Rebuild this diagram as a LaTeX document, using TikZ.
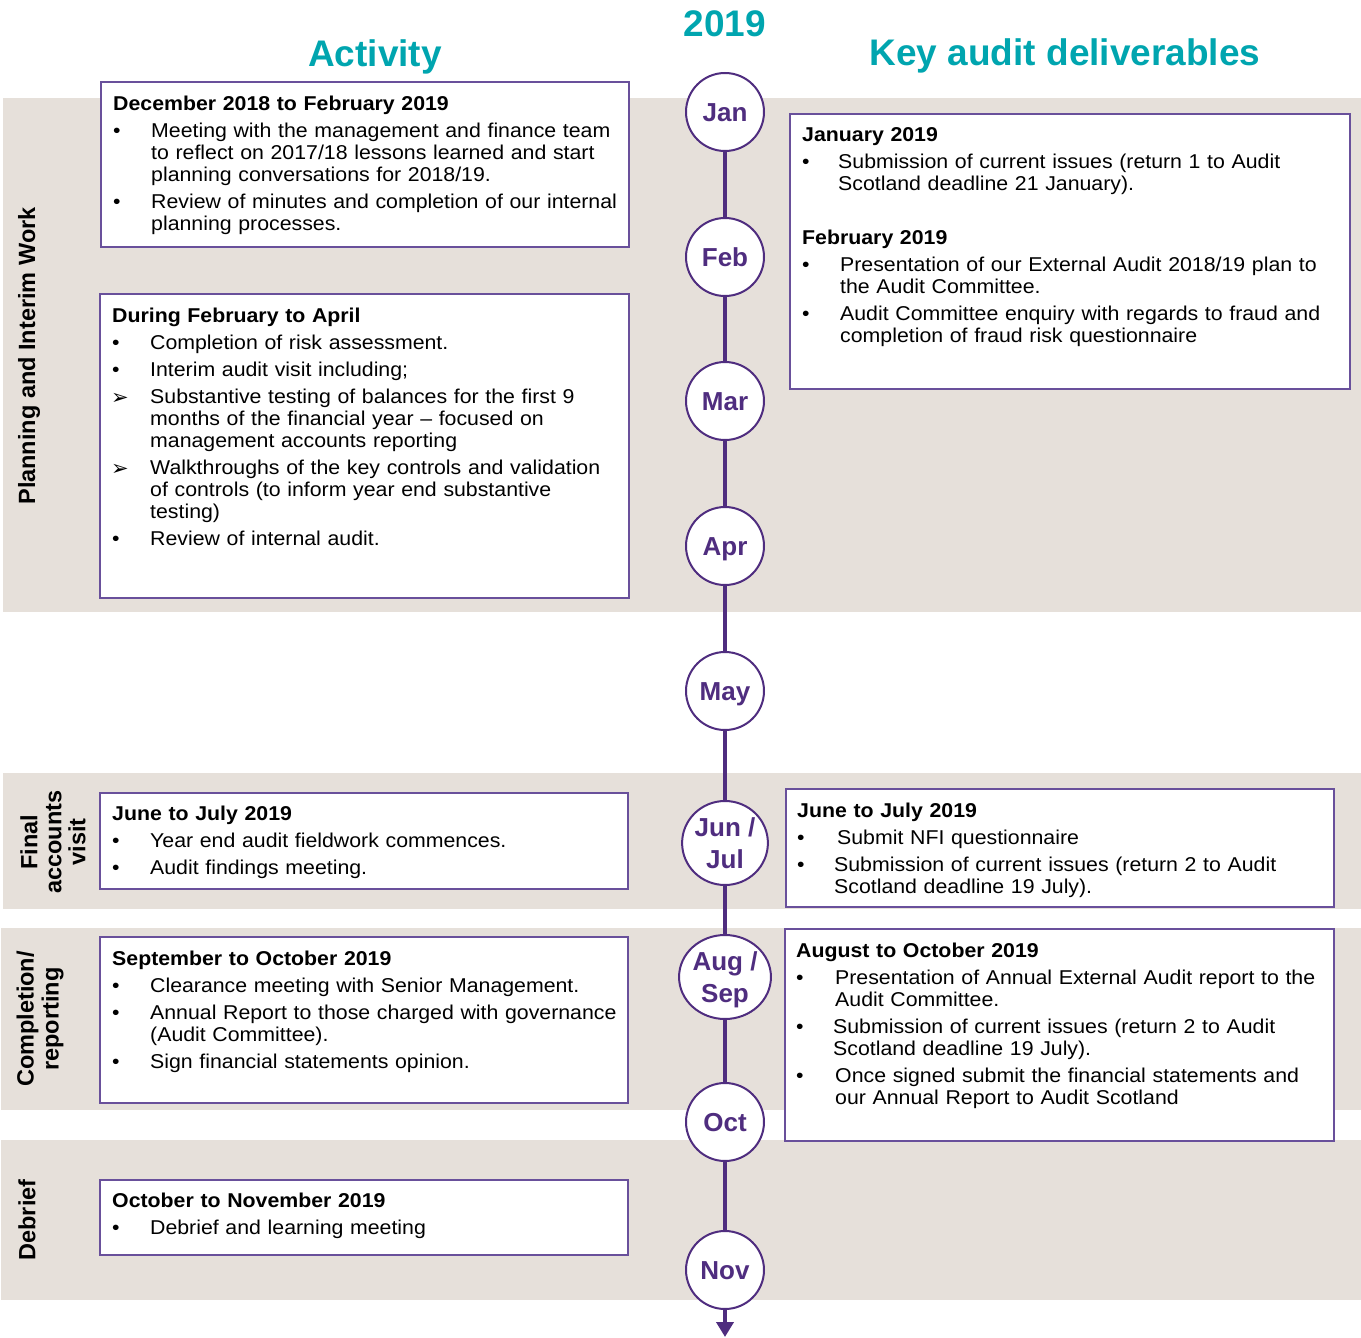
\documentclass[tikz,border=0pt]{standalone}
\usepackage{fontspec}
\setmainfont[FakeStretch=1.065]{Liberation Sans}
\newfontfamily\headfont{Liberation Sans}
\newfontfamily\symfont{DejaVu Sans}
\usetikzlibrary{positioning,arrows.meta,shapes.geometric}

\definecolor{gtteal}{RGB}{0,165,175}
\definecolor{gtpurple}{RGB}{79,45,127}
\definecolor{boxline}{RGB}{105,80,155}
\definecolor{bandgrey}{RGB}{230,224,218}

% bullet and arrow lines, hanging indent
\newcommand{\bl}[2][38pt]{\par\hangindent=#1\hangafter=1\noindent\makebox[#1][l]{•}#2\par}
\newcommand{\al}[2][38pt]{\par\hangindent=#1\hangafter=1\noindent\makebox[#1][l]{\hspace{-1pt}\raisebox{-1pt}{\symfont\fontsize{21}{21}\selectfont ➢}}#2\par}

\begin{document}
\begin{tikzpicture}[x=1pt,y=-1pt,
    band/.style={fill=bandgrey},
    actbox/.style={draw=boxline,fill=white,line width=1.3pt},
    boxtext/.style={anchor=north west,inner sep=0pt,text width=600pt,
        font=\fontsize{20}{22}\selectfont,
        execute at begin node={\setlength{\parskip}{5pt}\rightskip=0pt plus 1fil}},
    title/.style={inner sep=0pt,text=gtteal,font=\headfont\bfseries\fontsize{37}{40}\selectfont},
    side/.style={rotate=90,inner sep=0pt,align=center,font=\headfont\bfseries\fontsize{23.5}{24}\selectfont},
    month/.style={circle,draw=gtpurple,line width=2pt,fill=white,minimum size=78pt,inner sep=0pt,
        text=gtpurple,align=center,font=\headfont\bfseries\fontsize{26}{32}\selectfont},
    month1/.style={month,text height=18.5pt,text depth=0pt},
    month2/.style={month,ellipse,minimum width=80pt,minimum height=84pt},
    tline/.style={draw=gtpurple,line width=4pt}]

\useasboundingbox (0,0) rectangle (1361,1338);

% phase bands
\fill[band] (3,98) rectangle (1361,612);
\fill[band] (3,773) rectangle (1361,909);
\fill[band] (1,928) rectangle (1361,1110);
\fill[band] (1,1140) rectangle (1361,1300);

% headings
\node[title] (year) at (725,24) {2019};
\node[title] (activity) at (375,57) {Activity};
\node[title] (deliv) at (1065,56) {Key audit deliverables};

% phase labels
\node[side] (plan) at (29,356) {Planning and Interim Work};
\node[side] (final) at (53,842) {Final\\accounts\\visit};
\node[side,font=\headfont\bfseries\fontsize{23.5}{25}\selectfont] (compl) at (40,1019) {Completion/\\reporting};
\node[side] (debrief) at (27,1220) {Debrief};

% activity boxes
\draw[actbox] (101,82) rectangle (629,247);
\draw[actbox] (100,294) rectangle (629,598);
\draw[actbox] (100,793) rectangle (628,889);
\draw[actbox] (100,937) rectangle (628,1103);
\draw[actbox] (100,1180) rectangle (628,1255);

\node[boxtext] (act1) at (113,96) {\textbf{December 2018 to February 2019}
  \bl{Meeting with the management and finance team\newline to reflect on 2017/18 lessons learned and start\newline planning conversations for 2018/19.}
  \bl{Review of minutes and completion of our internal\newline planning processes.}};

\node[boxtext] (act2) at (112,308) {\textbf{During February to April}
  \bl{Completion of risk assessment.}
  \bl{Interim audit visit including;}
  \al{Substantive testing of balances for the first 9\newline months of the financial year – focused on\newline management accounts reporting}
  \al{Walkthroughs of the key controls and validation\newline of controls (to inform year end substantive\newline testing)}
  \bl{Review of internal audit.}};

\node[boxtext] (act3) at (112,806) {\textbf{June to July 2019}
  \bl{Year end audit fieldwork commences.}
  \bl{Audit findings meeting.}};

\node[boxtext] (act4) at (112,951) {\textbf{September to October 2019}
  \bl{Clearance meeting with Senior Management.}
  \bl{Annual Report to those charged with governance\newline (Audit Committee).}
  \bl{Sign financial statements opinion.}};

\node[boxtext] (act5) at (112,1193) {\textbf{October to November 2019}
  \bl{Debrief and learning meeting}};

% deliverable boxes
\draw[actbox] (790,114) rectangle (1350,389);
\draw[actbox] (786,789) rectangle (1334,907);
\draw[actbox] (785,929) rectangle (1334,1141);

\node[boxtext] (del1) at (802,127) {\textbf{January 2019}
  \bl[36pt]{Submission of current issues (return 1 to Audit\newline Scotland deadline 21 January).}};

\node[boxtext] (del2) at (802,230) {\textbf{February 2019}
  \bl{Presentation of our External Audit 2018/19 plan to\newline the Audit Committee.}
  \bl{Audit Committee enquiry with regards to fraud and\newline completion of fraud risk questionnaire}};

\node[boxtext] (del3) at (797,803) {\textbf{June to July 2019}
  \bl[40pt]{Submit NFI questionnaire}
  \bl[37pt]{Submission of current issues (return 2 to Audit\newline Scotland deadline 19 July).}};

\node[boxtext] (del4) at (796,943) {\textbf{August to October 2019}
  \bl[39pt]{Presentation of Annual External Audit report to the\newline Audit Committee.}
  \bl[37pt]{Submission of current issues (return 2 to Audit\newline Scotland deadline 19 July).}
  \bl[39pt]{Once signed submit the financial statements and\newline our Annual Report to Audit Scotland}};

% timeline
\node[month1] (jan) at (725,112) {Jan};
\node[month1] (feb) at (725,257) {Feb};
\node[month1] (mar) at (725,401) {Mar};
\node[month1] (apr) at (725,546) {Apr};
\node[month1] (may) at (725,691) {May};
\node[month2] (junjul) at (725,843) {Jun /\\Jul};
\node[month2,text depth=0pt] (augsep) at (725,977) {Aug /\\Sep};
\node[month1] (oct) at (725,1122) {Oct};
\node[month1] (nov) at (725,1270) {Nov};
\coordinate (tip) at (725,1337);

\foreach \a/\b in {jan/feb,feb/mar,mar/apr,apr/may,may/junjul,junjul/augsep,augsep/oct,oct/nov}
  \draw[tline] (\a) -- (\b);
\draw[tline,-{Triangle[length=15pt,width=17pt]}] (nov) -- (tip);

\end{tikzpicture}
\end{document}
